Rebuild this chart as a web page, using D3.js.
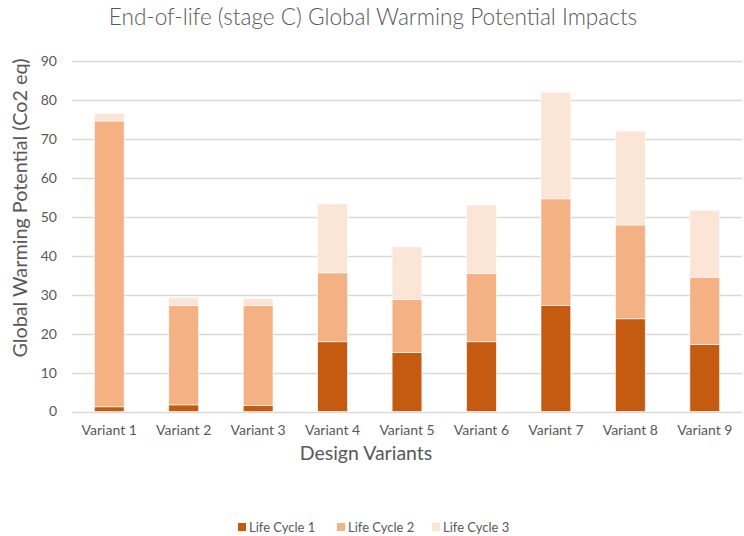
<!DOCTYPE html>
<html>
<head>
<meta charset="utf-8">
<script src="https://cdn.jsdelivr.net/npm/d3@7/dist/d3.min.js"></script>
<style>
  html, body { margin: 0; padding: 0; background: #fff; }
  svg { display: block; font-family: Lato, "Open Sans", sans-serif; }
</style>
</head>
<body>
<svg id="chart" width="744" height="536"></svg>
<script>
// Categories and stacked series values (CO2 eq)
const variants = ["Variant 1", "Variant 2", "Variant 3", "Variant 4", "Variant 5",
                  "Variant 6", "Variant 7", "Variant 8", "Variant 9"];
const lifeCycle1 = [1.2, 1.7, 1.5, 17.9, 15.2, 17.9, 27.2, 23.8, 17.2];
const lifeCycle2 = [73.4, 25.5, 25.7, 17.7, 13.6, 17.5, 27.4, 24.1, 17.3];
const lifeCycle3 = [2.0, 2.1, 1.8, 17.7, 13.5, 17.6, 27.4, 24.1, 17.2];
const seriesNames = ["Life Cycle 1", "Life Cycle 2", "Life Cycle 3"];
const seriesColors = ["#C55A11", "#F4B183", "#FBE5D6"];
const yTicks = [0, 10, 20, 30, 40, 50, 60, 70, 80, 90];

const svg = d3.select("#chart");
const margin = { left: 72, right: 2, top: 61, bottom: 125 };
const W = 744, H = 536;
const textColor = "#595959";

const rows = variants.map((v, i) => ({
  variant: v,
  "Life Cycle 1": lifeCycle1[i],
  "Life Cycle 2": lifeCycle2[i],
  "Life Cycle 3": lifeCycle3[i]
}));
const stacked = d3.stack().keys(seriesNames)(rows);

const x = d3.scaleBand()
  .domain(variants)
  .range([margin.left, W - margin.right])
  .paddingInner(0.6)
  .paddingOuter(0.3);

const y = d3.scaleLinear()
  .domain([0, 90])
  .range([411.5, 61]);

const color = d3.scaleOrdinal().domain(seriesNames).range(seriesColors);

// Gridlines
svg.append("g")
  .selectAll("line")
  .data(yTicks)
  .join("line")
  .attr("x1", margin.left)
  .attr("x2", W - margin.right)
  .attr("y1", d => Math.round(y(d)) + 0.5)
  .attr("y2", d => Math.round(y(d)) + 0.5)
  .attr("stroke", "#d9d9d9")
  .attr("stroke-width", 1.3);

// Y axis labels
const yAxis = d3.axisLeft(y).tickValues(yTicks).tickSize(0).tickPadding(0);
svg.append("g")
  .attr("transform", `translate(57,0)`)
  .call(yAxis)
  .call(g => g.select(".domain").remove())
  .call(g => g.selectAll("text")
    .attr("fill", textColor)
    .style("font-size", "14px")
    .style("font-family", "Lato, 'Open Sans', sans-serif"));

// Stacked bars
svg.append("g")
  .selectAll("g")
  .data(stacked)
  .join("g")
  .attr("fill", d => color(d.key))
  .selectAll("rect")
  .data(d => d)
  .join("rect")
  .attr("x", d => x(d.data.variant))
  .attr("width", x.bandwidth())
  .attr("y", d => y(d[1]))
  .attr("height", d => y(d[0]) - y(d[1]))
  .attr("stroke", "#fff")
  .attr("stroke-width", 0.6);

// X axis labels
const xAxis = d3.axisBottom(x).tickSize(0).tickPadding(0);
svg.append("g")
  .attr("transform", `translate(0,425)`)
  .call(xAxis)
  .call(g => g.select(".domain").remove())
  .call(g => g.selectAll("text")
    .attr("fill", textColor)
    .style("font-size", "14px")
    .style("font-family", "Lato, 'Open Sans', sans-serif"));

// Title
svg.append("text")
  .attr("x", 373)
  .attr("y", 25)
  .attr("text-anchor", "middle")
  .attr("fill", textColor)
  .style("font-size", "22.6px")
  .style("font-weight", 300)
  .text("End-of-life (stage C) Global Warming Potential Impacts");

// Axis titles
svg.append("text")
  .attr("x", 366)
  .attr("y", 460)
  .attr("text-anchor", "middle")
  .attr("fill", textColor)
  .style("font-size", "19.5px")
  .text("Design Variants");

svg.append("text")
  .attr("transform", "translate(27,208) rotate(-90)")
  .attr("text-anchor", "middle")
  .attr("fill", textColor)
  .style("font-size", "19.8px")
  .text("Global Warming Potential (Co2 eq)");

// Legend
const legendX = [238, 337, 432];
const legend = svg.append("g")
  .selectAll("g")
  .data(seriesNames)
  .join("g")
  .attr("transform", (d, i) => `translate(${legendX[i]},523)`);
legend.append("rect")
  .attr("width", 8)
  .attr("height", 8)
  .attr("fill", d => color(d));
legend.append("text")
  .attr("x", 11)
  .attr("y", 8.5)
  .attr("fill", textColor)
  .style("font-size", "13px")
  .text(d => d);
</script>
</body>
</html>
